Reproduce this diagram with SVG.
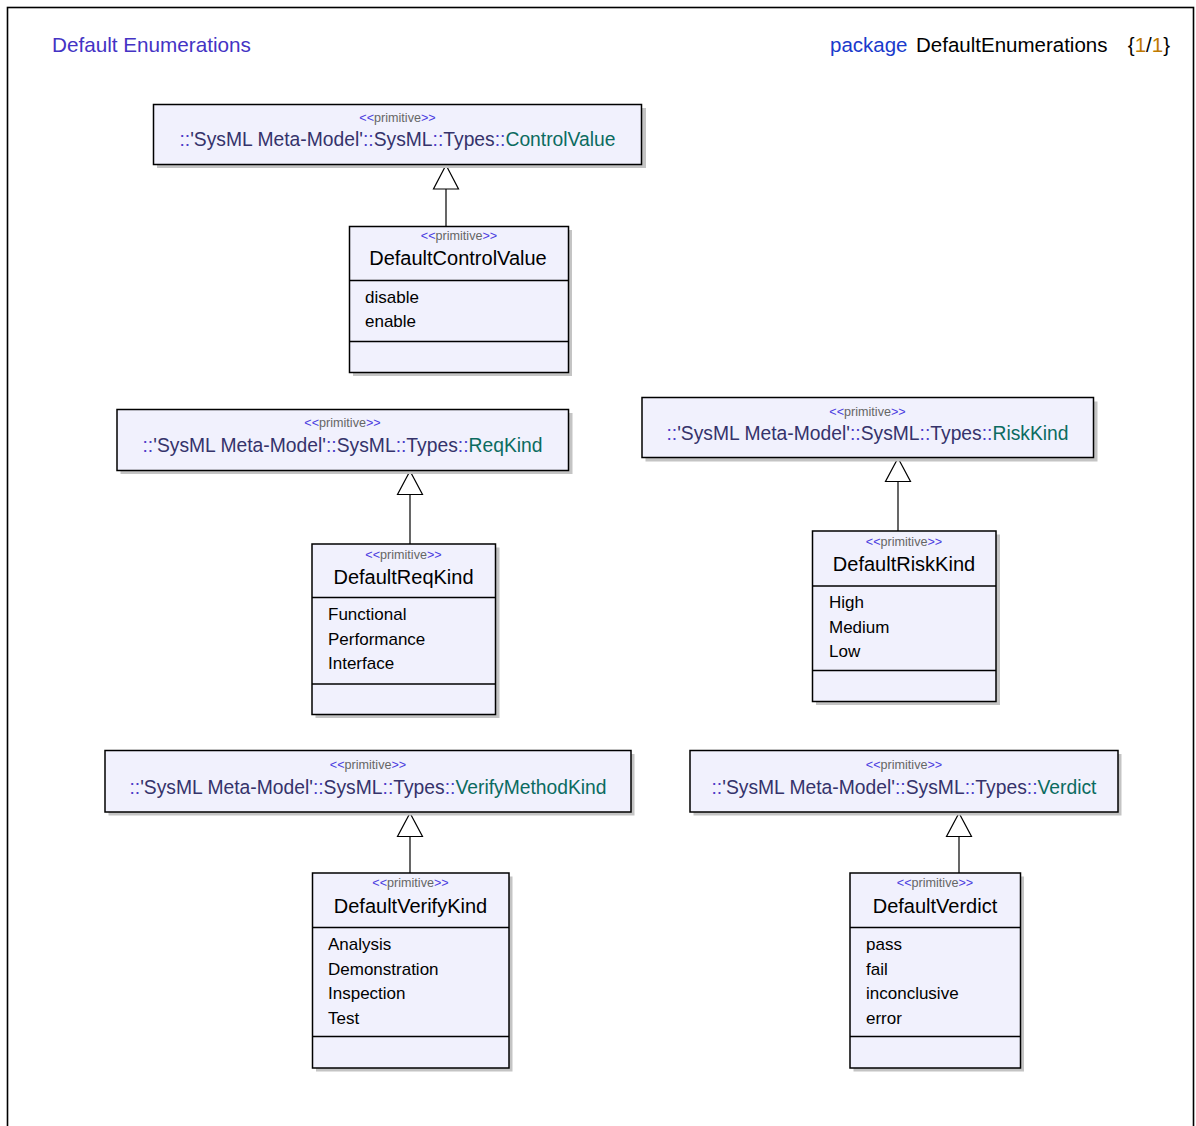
<svg xmlns="http://www.w3.org/2000/svg" width="1196" height="1126" viewBox="0 0 1196 1126">
  <style>
    text { font-family: "Liberation Sans", Arial, sans-serif; }
    .frame { fill: #ffffff; stroke: #000000; stroke-width: 1.6; }
    .box { fill: #f1f1fd; stroke: #000000; stroke-width: 1.5; }
    .shadow { fill: #c4c4c4; }
    .div { stroke: #000000; stroke-width: 1.5; }
    .st { font-size: 12.6px; text-anchor: middle; fill: #666666; }
    .st .g { fill: #4a3ce0; }
    .qn { font-size: 19.3px; text-anchor: middle; fill: #35336b; }
    .qn .sep { fill: #4a3cc8; }
    .qn .leaf { fill: #0b6b60; }
    .nm { font-size: 20px; text-anchor: middle; fill: #000000; }
    .at { font-size: 17px; fill: #000000; }
    .edge { stroke: #000000; stroke-width: 1.2; fill: none; }
    .head { fill: #ffffff; stroke: #000000; stroke-width: 1.2; }
    .title { font-size: 20.7px; fill: #4433c4; }
    .hdr { font-size: 20.5px; fill: #000000; }
  </style>

  <!-- diagram frame -->
  <rect class="frame" x="7.5" y="7.5" width="1186" height="1140"/>
  <text class="title" x="52" y="52">Default Enumerations</text>
  <text class="hdr" x="830" y="52" fill="#1a3acc" style="fill:#1a3acc">package</text>
  <text class="hdr" x="916" y="52">DefaultEnumerations</text>
  <text class="hdr" x="1170" y="52" text-anchor="end">{<tspan fill="#c07a00">1</tspan>/<tspan fill="#c07a00">1</tspan>}</text>

  <!-- generalization connectors -->
  <g id="connectors">
    <line class="edge" x1="446" y1="189" x2="446" y2="226"/>
    <polygon class="head" points="446,165 433.5,189 458.5,189"/>
    <line class="edge" x1="410" y1="494.5" x2="410" y2="544"/>
    <polygon class="head" points="410,471 397.5,494.5 422.5,494.5"/>
    <line class="edge" x1="898" y1="481.5" x2="898" y2="531"/>
    <polygon class="head" points="898,458 885.5,481.5 910.5,481.5"/>
    <line class="edge" x1="410" y1="836.5" x2="410" y2="873"/>
    <polygon class="head" points="410,813 397.5,836.5 422.5,836.5"/>
    <line class="edge" x1="959" y1="836.5" x2="959" y2="873"/>
    <polygon class="head" points="959,813 946.5,836.5 971.5,836.5"/>
  </g>

  <!-- SysML type: ControlValue -->
  <g id="ControlValue">
    <rect class="shadow" x="157" y="108" width="489" height="60"/>
    <rect class="box" x="153.5" y="104.5" width="488" height="60"/>
    <text class="st" x="397.5" y="122"><tspan class="g">&lt;&lt;</tspan>primitive<tspan class="g">&gt;&gt;</tspan></text>
    <text class="qn" x="397.5" y="146"><tspan class="sep">::</tspan>'SysML Meta-Model'<tspan class="sep">::</tspan>SysML<tspan class="sep">::</tspan>Types<tspan class="sep">::</tspan><tspan class="leaf">ControlValue</tspan></text>
  </g>

  <g id="DefaultControlValue">
    <rect class="shadow" x="353" y="230" width="219" height="146"/>
    <rect class="box" x="349.5" y="226.5" width="219" height="146"/>
    <line class="div" x1="349.5" y1="280.5" x2="568.5" y2="280.5"/>
    <line class="div" x1="349.5" y1="341.5" x2="568.5" y2="341.5"/>
    <text class="st" x="459" y="240"><tspan class="g">&lt;&lt;</tspan>primitive<tspan class="g">&gt;&gt;</tspan></text>
    <text class="nm" x="458" y="265">DefaultControlValue</text>
    <text class="at" x="365" y="303">disable</text>
    <text class="at" x="365" y="327">enable</text>
  </g>

  <!-- SysML type: ReqKind -->
  <g id="ReqKind">
    <rect class="shadow" x="120.5" y="413" width="452" height="61"/>
    <rect class="box" x="117" y="409.5" width="451.5" height="61"/>
    <text class="st" x="342.5" y="427"><tspan class="g">&lt;&lt;</tspan>primitive<tspan class="g">&gt;&gt;</tspan></text>
    <text class="qn" x="342.5" y="452"><tspan class="sep">::</tspan>'SysML Meta-Model'<tspan class="sep">::</tspan>SysML<tspan class="sep">::</tspan>Types<tspan class="sep">::</tspan><tspan class="leaf">ReqKind</tspan></text>
  </g>

  <g id="DefaultReqKind">
    <rect class="shadow" x="315.5" y="547.5" width="184" height="170.5"/>
    <rect class="box" x="312" y="544" width="183.5" height="170.5"/>
    <line class="div" x1="312" y1="597.5" x2="495.5" y2="597.5"/>
    <line class="div" x1="312" y1="684" x2="495.5" y2="684"/>
    <text class="st" x="403.5" y="558.5"><tspan class="g">&lt;&lt;</tspan>primitive<tspan class="g">&gt;&gt;</tspan></text>
    <text class="nm" x="403.5" y="583.5">DefaultReqKind</text>
    <text class="at" x="328" y="620">Functional</text>
    <text class="at" x="328" y="644.5">Performance</text>
    <text class="at" x="328" y="669">Interface</text>
  </g>

  <!-- SysML type: RiskKind -->
  <g id="RiskKind">
    <rect class="shadow" x="645.5" y="401.5" width="452" height="60"/>
    <rect class="box" x="642" y="397.5" width="451.5" height="60"/>
    <text class="st" x="867.5" y="415.5"><tspan class="g">&lt;&lt;</tspan>primitive<tspan class="g">&gt;&gt;</tspan></text>
    <text class="qn" x="867.5" y="439.5"><tspan class="sep">::</tspan>'SysML Meta-Model'<tspan class="sep">::</tspan>SysML<tspan class="sep">::</tspan>Types<tspan class="sep">::</tspan><tspan class="leaf">RiskKind</tspan></text>
  </g>

  <g id="DefaultRiskKind">
    <rect class="shadow" x="816" y="534.5" width="184" height="170.5"/>
    <rect class="box" x="812.5" y="531" width="183.5" height="170.5"/>
    <line class="div" x1="812.5" y1="586" x2="996" y2="586"/>
    <line class="div" x1="812.5" y1="670.5" x2="996" y2="670.5"/>
    <text class="st" x="904" y="545.5"><tspan class="g">&lt;&lt;</tspan>primitive<tspan class="g">&gt;&gt;</tspan></text>
    <text class="nm" x="904" y="571">DefaultRiskKind</text>
    <text class="at" x="829" y="608">High</text>
    <text class="at" x="829" y="632.5">Medium</text>
    <text class="at" x="829" y="657">Low</text>
  </g>

  <!-- SysML type: VerifyMethodKind -->
  <g id="VerifyMethodKind">
    <rect class="shadow" x="108.5" y="754" width="526" height="61.5"/>
    <rect class="box" x="105" y="750.5" width="526" height="61.5"/>
    <text class="st" x="368" y="769"><tspan class="g">&lt;&lt;</tspan>primitive<tspan class="g">&gt;&gt;</tspan></text>
    <text class="qn" x="368" y="794"><tspan class="sep">::</tspan>'SysML Meta-Model'<tspan class="sep">::</tspan>SysML<tspan class="sep">::</tspan>Types<tspan class="sep">::</tspan><tspan class="leaf">VerifyMethodKind</tspan></text>
  </g>

  <g id="DefaultVerifyKind">
    <rect class="shadow" x="316" y="876.5" width="196.5" height="195"/>
    <rect class="box" x="312.5" y="873" width="196.5" height="195"/>
    <line class="div" x1="312.5" y1="927.5" x2="509" y2="927.5"/>
    <line class="div" x1="312.5" y1="1036.5" x2="509" y2="1036.5"/>
    <text class="st" x="410.5" y="887"><tspan class="g">&lt;&lt;</tspan>primitive<tspan class="g">&gt;&gt;</tspan></text>
    <text class="nm" x="410.5" y="913">DefaultVerifyKind</text>
    <text class="at" x="328" y="950">Analysis</text>
    <text class="at" x="328" y="974.5">Demonstration</text>
    <text class="at" x="328" y="999">Inspection</text>
    <text class="at" x="328" y="1023.5">Test</text>
  </g>

  <!-- SysML type: Verdict -->
  <g id="Verdict">
    <rect class="shadow" x="693.5" y="754" width="428" height="61.5"/>
    <rect class="box" x="690" y="750.5" width="428" height="61.5"/>
    <text class="st" x="904" y="769"><tspan class="g">&lt;&lt;</tspan>primitive<tspan class="g">&gt;&gt;</tspan></text>
    <text class="qn" x="904" y="794"><tspan class="sep">::</tspan>'SysML Meta-Model'<tspan class="sep">::</tspan>SysML<tspan class="sep">::</tspan>Types<tspan class="sep">::</tspan><tspan class="leaf">Verdict</tspan></text>
  </g>

  <g id="DefaultVerdict">
    <rect class="shadow" x="853.5" y="876.5" width="170.5" height="195"/>
    <rect class="box" x="850" y="873" width="170.5" height="195"/>
    <line class="div" x1="850" y1="927.5" x2="1020.5" y2="927.5"/>
    <line class="div" x1="850" y1="1036.5" x2="1020.5" y2="1036.5"/>
    <text class="st" x="935" y="887"><tspan class="g">&lt;&lt;</tspan>primitive<tspan class="g">&gt;&gt;</tspan></text>
    <text class="nm" x="935" y="913">DefaultVerdict</text>
    <text class="at" x="866" y="950">pass</text>
    <text class="at" x="866" y="974.5">fail</text>
    <text class="at" x="866" y="999">inconclusive</text>
    <text class="at" x="866" y="1023.5">error</text>
  </g>
</svg>
